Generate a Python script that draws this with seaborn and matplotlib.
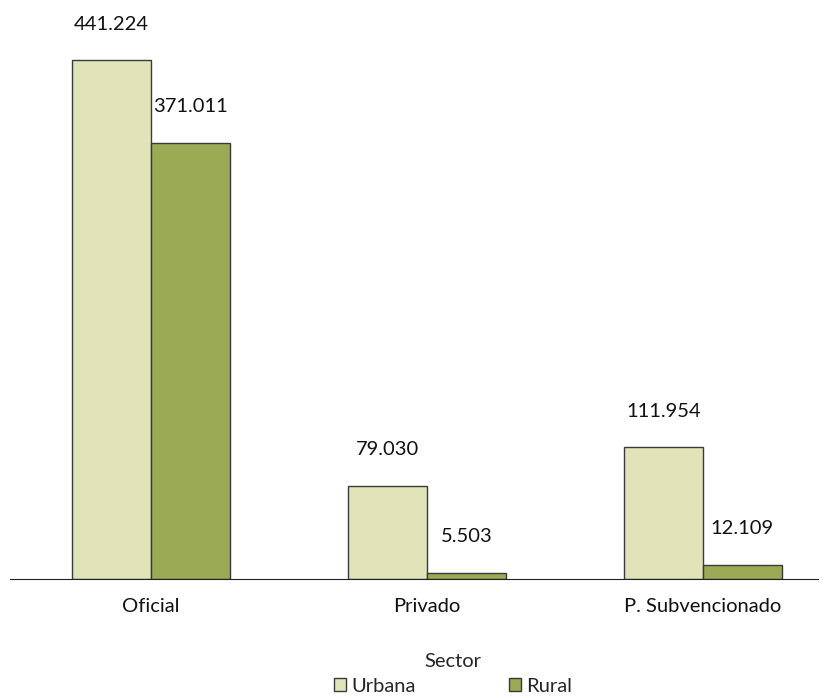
import pandas as pd
import seaborn as sns
from matplotlib import pyplot as plt

sectores = ["Oficial", "Privado", "P. Subvencionado"]
zonas = ["Urbana", "Rural"]
urbana = [441224, 79030, 111954]
rural = [371011, 5503, 12109]

colores = {"Urbana": "#E0E4B8", "Rural": "#9BAA55"}

d = pd.DataFrame({
    "Sector": sectores * 2,
    "Zona": ["Urbana"] * 3 + ["Rural"] * 3,
    "Valor": urbana + rural,
})

sns.set_style("white")
plt.rcParams["font.family"] = ["Lato", "DejaVu Sans"]

fig = plt.figure(figsize=(8.27, 6.98), dpi=100)
ax = fig.add_axes([10 / 827, 119 / 698, 808 / 827, 570 / 698])

sns.barplot(data=d, x="Sector", y="Valor", hue="Zona", hue_order=zonas,
            palette=colores, width=0.572, gap=0, edgecolor="#3a3a3a",
            linewidth=1, saturation=1, ax=ax)

ax.set_xlim(-0.511, 2.417)
ax.set_ylim(0, 485000)

for cont in ax.containers:
    labels = [f"{int(v):,}".replace(",", ".") for v in cont.datavalues]
    ax.bar_label(cont, labels=labels, padding=20, fontsize=14.5, color="#111111")

sns.despine(ax=ax, left=True)
ax.spines["bottom"].set_color("#222222")
ax.set_yticks([])
ax.set_xlabel("")
ax.set_ylabel("")
ax.tick_params(axis="x", length=0, pad=14, labelsize=14.5, colors="#111111")

h, l = ax.get_legend_handles_labels()
ax.get_legend().remove()
leg = fig.legend(h, l, title="Sector", ncol=2, frameon=False,
                 loc="center", bbox_to_anchor=(453 / 827, 1 - 674 / 698),
                 fontsize=14.5, title_fontsize=14.5, handlelength=0.6,
                 handleheight=0.6, handletextpad=0.25, columnspacing=4.6,
                 borderpad=0, labelspacing=0.35)
for p in leg.get_patches():
    p.set_edgecolor("#3a3a3a")

fig.savefig("out.png", dpi=100)
